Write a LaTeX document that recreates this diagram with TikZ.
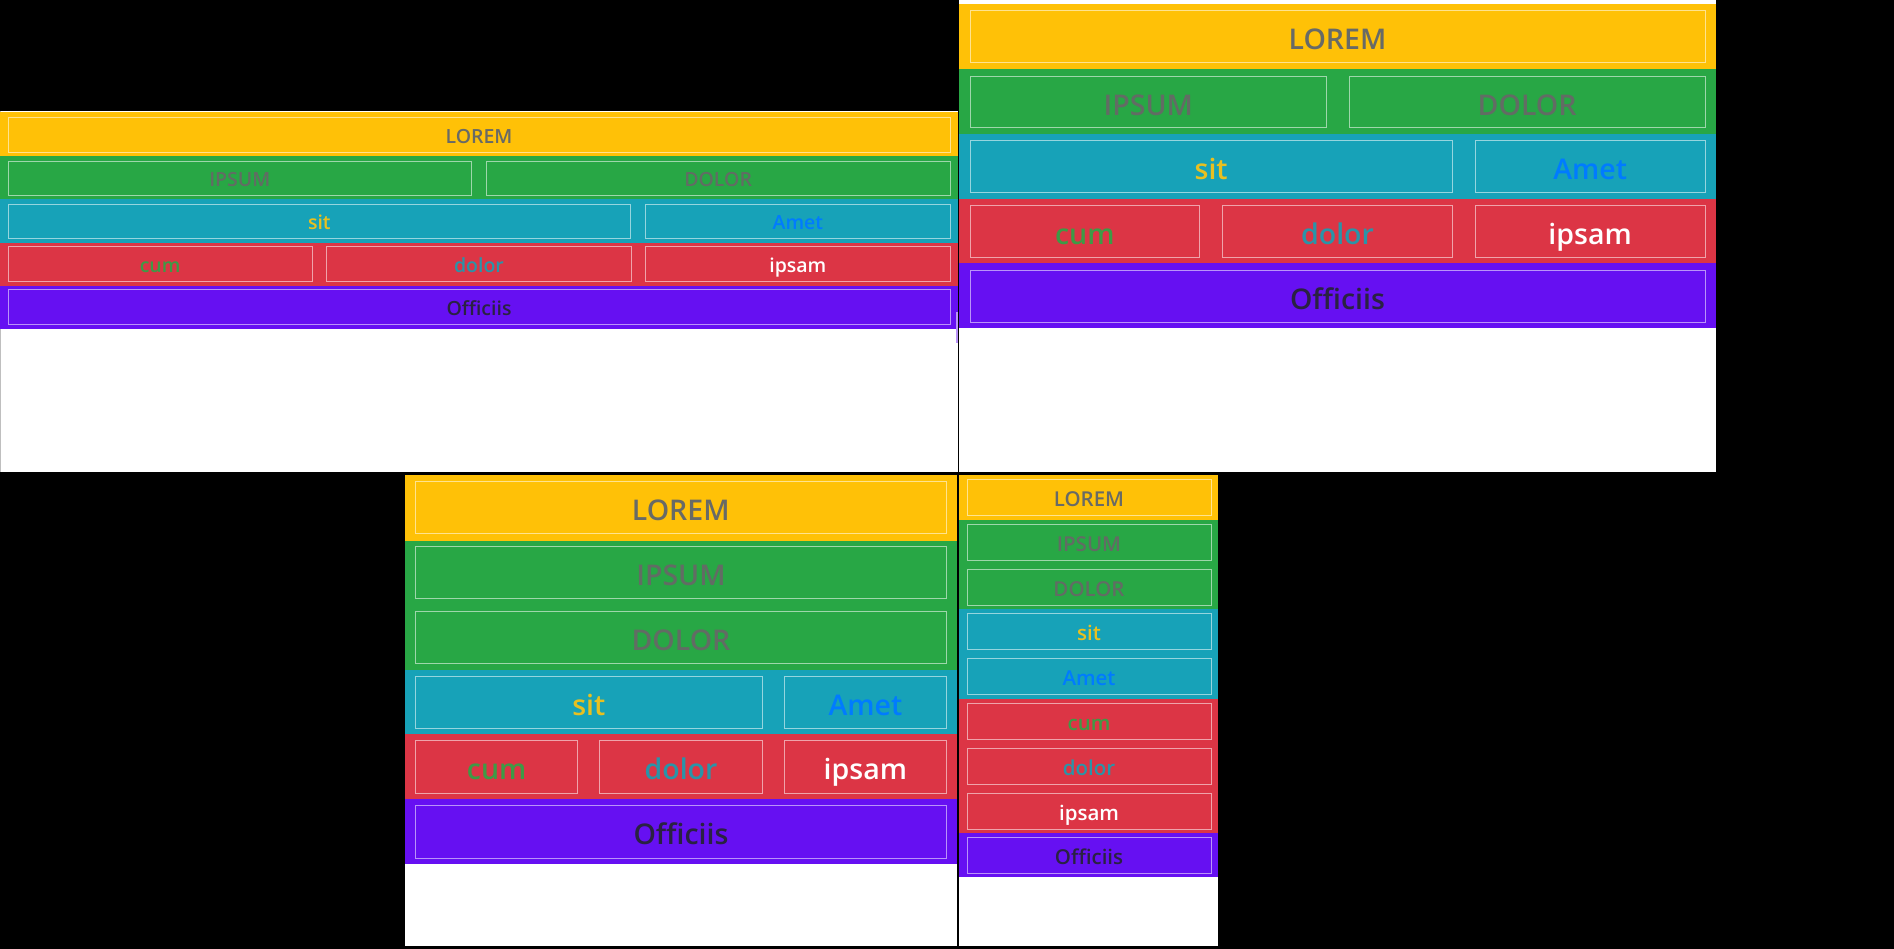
\documentclass[tikz,border=0pt]{standalone}
\usepackage{fontspec}
\IfFontExistsTF{Open Sans SemiBold}{\newfontfamily\uif{Open Sans SemiBold}}{%
  \IfFontExistsTF{Open Sans Semibold}{\newfontfamily\uif{Open Sans Semibold}}{\newfontfamily\uif{Open Sans}}}
\definecolor{byel}{HTML}{FFC107}
\definecolor{bgrn}{HTML}{28A745}
\definecolor{bteal}{HTML}{17A2B8}
\definecolor{bred}{HTML}{DC3545}
\definecolor{bpur}{HTML}{6610F2}
\definecolor{bblue}{HTML}{007BFF}
\definecolor{tgray}{HTML}{686A66}
\definecolor{tgrn}{HTML}{626C64}
\definecolor{tdark}{HTML}{2A2242}
\definecolor{tsit}{HTML}{E8C020}
\definecolor{tcum}{HTML}{3E9A46}
\definecolor{tdol}{HTML}{2A94A8}
\tikzset{
  cell/.style={draw=white, draw opacity=0.55, line width=1pt, inner sep=0pt},
  pA/.style={cell, font=\uif\fontsize{19.5}{20}\selectfont, text height=18pt, text depth=1.4pt},
  pB/.style={cell, font=\uif\fontsize{28.5}{30}\selectfont, text height=28pt, text depth=2pt},
  pD/.style={cell, font=\uif\fontsize{20.5}{22}\selectfont, text height=20pt, text depth=2pt},
  panel/.style={fill=white}
}
\newcommand\mkcell[8]{%
  \node[#1, text=#7, minimum width={#5-#3}, minimum height={#6-#4}] (#2) at ({(#3+#5)/2},{(#4+#6)/2}) {#8};}
\begin{document}
\begin{tikzpicture}[x=1pt,y=-1pt]
\useasboundingbox (0,0) rectangle (1894,949);
\fill[black] (0,0) rectangle (1894,949);
% ---------------- Panel 1 (top left)
\fill[panel] (0,111) rectangle (957.7,471.5);
\draw[gray!50, line width=1pt] (0.5,111) -- (0.5,471.5);
\fill[byel] (0,112.5) rectangle (957.7,156);
\fill[bgrn] (0,156) rectangle (957.7,199.5);
\fill[bteal] (0,199.5) rectangle (957.7,242.7);
\fill[bred] (0,242.7) rectangle (957.7,285.7);
\fill[bpur] (0,285.7) rectangle (957.7,328.7);
\fill[bpur!45] (955.5,312) rectangle (957.5,343);
\mkcell{pA}{a1}{8}{117.3}{950}{152.7}{tgray}{LOREM}
\mkcell{pA}{a2}{8}{161.3}{471.7}{195.7}{tgrn}{IPSUM}
\mkcell{pA}{a3}{486.3}{161.3}{950}{195.7}{tgrn}{DOLOR}
\mkcell{pA}{a4}{8}{204.3}{630.7}{238.3}{tsit}{sit}
\mkcell{pA}{a5}{645.7}{204.3}{950}{238.3}{bblue}{Amet}
\mkcell{pA}{a6}{8}{247}{312.2}{281.7}{tcum}{cum}
\mkcell{pA}{a7}{326.9}{247}{631}{281.7}{tdol}{dolor}
\mkcell{pA}{a8}{645.7}{247}{950}{281.7}{white}{ipsam}
\mkcell{pA}{a9}{8}{290}{950}{324.3}{tdark}{Officiis}
% ---------------- Panel 2 (top right)
\fill[panel] (959,0) rectangle (1716,471.5);
\fill[byel] (959,4) rectangle (1716,69);
\fill[bgrn] (959,69) rectangle (1716,134);
\fill[bteal] (959,134) rectangle (1716,198.7);
\fill[bred] (959,198.7) rectangle (1716,263.3);
\fill[bpur] (959,263.3) rectangle (1716,328.3);
\mkcell{pB}{b1}{970}{10.3}{1705}{62.3}{tgray}{LOREM}
\mkcell{pB}{b2}{970}{76.3}{1326.7}{127.8}{tgrn}{IPSUM}
\mkcell{pB}{b3}{1349.3}{76.3}{1705}{127.8}{tgrn}{DOLOR}
\mkcell{pB}{b4}{970}{140.3}{1452.3}{192.3}{tsit}{sit}
\mkcell{pB}{b5}{1475.3}{140.3}{1705}{192.3}{bblue}{Amet}
\mkcell{pB}{b6}{970}{205.3}{1199.7}{257.3}{tcum}{cum}
\mkcell{pB}{b7}{1222.7}{205.3}{1452.3}{257.3}{tdol}{dolor}
\mkcell{pB}{b8}{1475.3}{205.3}{1705}{257.3}{white}{ipsam}
\mkcell{pB}{b9}{970}{270.3}{1705}{322.3}{tdark}{Officiis}
% ---------------- Panel 3 (bottom middle)
\fill[panel] (405,475) rectangle (957,946);
\fill[byel] (405,475) rectangle (957,541);
\fill[bgrn] (405,541) rectangle (957,670);
\fill[bteal] (405,670) rectangle (957,734);
\fill[bred] (405,734) rectangle (957,799);
\fill[bpur] (405,799) rectangle (957,864);
\mkcell{pB}{c1}{415.5}{481}{946}{533}{tgray}{LOREM}
\mkcell{pB}{c2}{415.5}{546}{946.5}{598}{tgrn}{IPSUM}
\mkcell{pB}{c3}{415.5}{611}{946.5}{663}{tgrn}{DOLOR}
\mkcell{pB}{c4}{415.5}{676}{762.2}{728}{tsit}{sit}
\mkcell{pB}{c5}{784.2}{676}{946.5}{728}{bblue}{Amet}
\mkcell{pB}{c6}{415.5}{740.5}{577.8}{793}{tcum}{cum}
\mkcell{pB}{c7}{599.8}{740.5}{762.2}{793}{tdol}{dolor}
\mkcell{pB}{c8}{784.2}{740.5}{946.5}{793}{white}{ipsam}
\mkcell{pB}{c9}{415.5}{805.5}{946.5}{858}{tdark}{Officiis}
% ---------------- Panel 4 (bottom right, narrow)
\fill[panel] (959,475) rectangle (1218,946);
\fill[byel] (959,475) rectangle (1218,520);
\fill[bgrn] (959,520) rectangle (1218,609);
\fill[bteal] (959,609) rectangle (1218,699);
\fill[bred] (959,699) rectangle (1218,833);
\fill[bpur] (959,833) rectangle (1218,877);
\mkcell{pD}{d1}{967}{479}{1211}{515}{tgray}{LOREM}
\mkcell{pD}{d2}{967}{524}{1211}{560}{tgrn}{IPSUM}
\mkcell{pD}{d3}{967}{569}{1211}{605}{tgrn}{DOLOR}
\mkcell{pD}{d4}{967}{613.5}{1211}{649}{tsit}{sit}
\mkcell{pD}{d5}{967}{658}{1211}{694}{bblue}{Amet}
\mkcell{pD}{d6}{967}{703}{1211}{739}{tcum}{cum}
\mkcell{pD}{d7}{967}{748}{1211}{784}{tdol}{dolor}
\mkcell{pD}{d8}{967}{793}{1211}{829}{white}{ipsam}
\mkcell{pD}{d9}{967}{837}{1211}{873}{tdark}{Officiis}
\end{tikzpicture}
\end{document}
